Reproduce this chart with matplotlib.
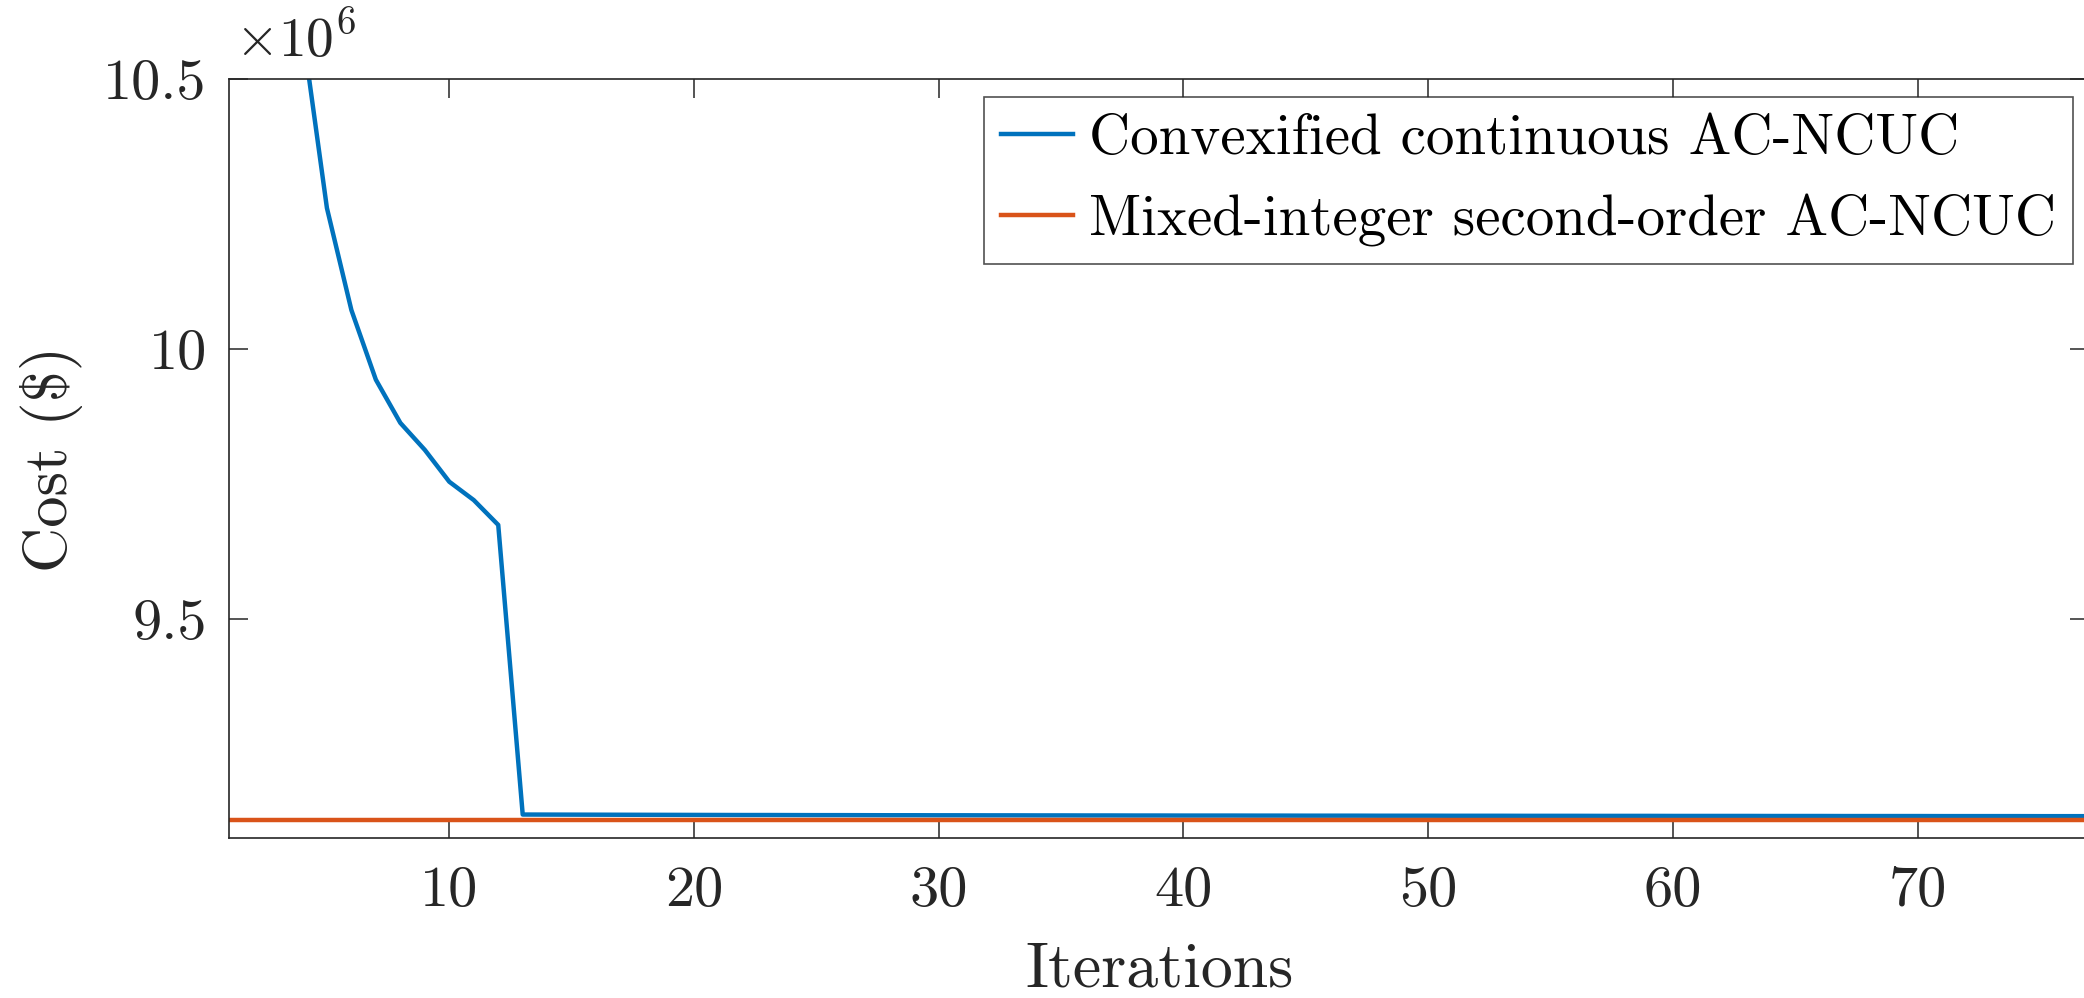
import numpy as np
import matplotlib
matplotlib.use('Agg')
import matplotlib.pyplot as plt
from matplotlib.ticker import FuncFormatter

plt.rcParams['font.family'] = 'cmr10'
plt.rcParams['mathtext.fontset'] = 'cm'
plt.rcParams['axes.unicode_minus'] = False

# data (cost in millions of $)
iterations = np.arange(1, 78)
convexified = [12.0, 11.3, 10.9, 10.59, 10.261, 10.072, 9.943, 9.863, 9.813, 9.754, 9.720, 9.674,
               9.1375, 9.1374, 9.1373, 9.1372, 9.1371, 9.1370, 9.1369, 9.1368,
               9.1367, 9.1366, 9.1366, 9.1365, 9.1364, 9.1364, 9.1363, 9.1362, 9.1362, 9.1361,
               9.1361, 9.1360, 9.1360, 9.1359, 9.1359, 9.1358, 9.1358, 9.1357, 9.1357, 9.1356,
               9.1356, 9.1356, 9.1355, 9.1355, 9.1354, 9.1354, 9.1354, 9.1353, 9.1353, 9.1353,
               9.1352, 9.1352, 9.1352, 9.1351, 9.1351, 9.1351, 9.1350, 9.1350, 9.1350, 9.1349,
               9.1349, 9.1349, 9.1349, 9.1348, 9.1348, 9.1348, 9.1347, 9.1347, 9.1347, 9.1347,
               9.1346, 9.1346, 9.1346, 9.1346, 9.1345, 9.1345, 9.1345]
mixed_integer = [9.128] * len(iterations)

labels = ['Convexified continuous AC-NCUC', 'Mixed-integer second-order AC-NCUC']

blue_cost = np.array(convexified) * 1e6
orange_cost = np.array(mixed_integer) * 1e6

fig = plt.figure(figsize=(20.84, 9.98), dpi=100)
ax = fig.add_axes([0.1099, 0.1603, 0.8925, 0.7605])

ax.plot(iterations, blue_cost, color='#0072BD', lw=3.2, label=labels[0])
ax.plot(iterations, orange_cost, color='#D95319', lw=3.2, label=labels[1])

ax.set_xlim(1, 77)
ax.set_ylim(9.094e6, 10.5e6)
ax.set_xticks([10, 20, 30, 40, 50, 60, 70])
ax.set_yticks([9.5e6, 10e6, 10.5e6])
ax.yaxis.set_major_formatter(FuncFormatter(lambda v, p: '%g' % (v / 1e6)))

for s in ax.spines.values():
    s.set_color('#262626')
    s.set_linewidth(1.2)
ax.tick_params(direction='in', length=13.5, width=1.1, colors='#262626',
               labelcolor='#262626', labelsize=42, top=True, right=True)
ax.tick_params(axis='x', pad=20)
ax.tick_params(axis='y', pad=16)

ax.set_xlabel('Iterations', fontsize=46, color='#262626', va='top')
ax.set_ylabel('Cost ($)', fontsize=45, color='#262626')
ax.xaxis.set_label_coords(0.5, -0.137)
ax.yaxis.set_label_coords(-0.0785, 0.5)

fig.text(0.113, 0.943, r'$\times10^{6}$', fontsize=40, color='#262626')

leg = ax.legend(loc='upper right', bbox_to_anchor=(0.9914, 0.9763), borderaxespad=0,
                fontsize=41, frameon=True, fancybox=False, edgecolor='#262626',
                handlelength=1.26, handletextpad=0.28, borderpad=0.3, labelspacing=0.5)
leg.get_frame().set_linewidth(1.2)

fig.savefig('out.png', dpi=100)
